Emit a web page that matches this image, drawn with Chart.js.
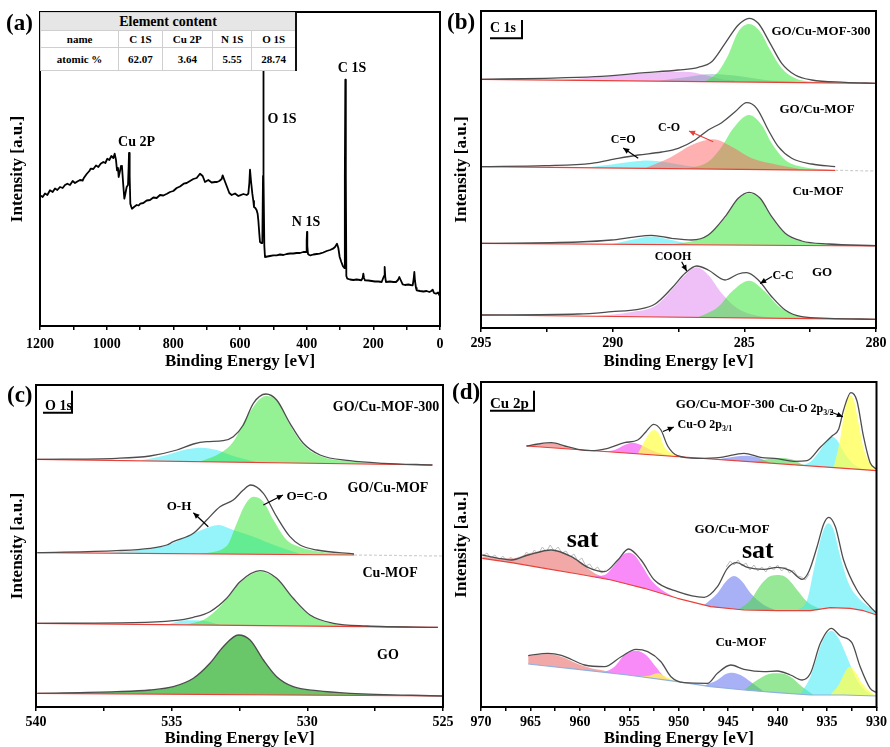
<!DOCTYPE html>
<html>
<head>
<meta charset="utf-8">
<script src="https://cdn.jsdelivr.net/npm/chart.js@4.4.1/dist/chart.umd.min.js"></script>
<style>
  body { margin: 0; width: 890px; height: 747px; position: relative; overflow: hidden; background: #fff;
         font-family: 'Liberation Serif', 'Times New Roman', serif; }
  canvas { position: absolute; }
  .tag { position: absolute; font: bold 23px/23px 'Liberation Serif', serif; color: #000; }
  #elTable { position: absolute; left: 40px; top: 12px; width: 257px; height: 58px; border-collapse: collapse;
             background: #fff; z-index: 5; border-top: 1px solid #777; border-right: 2px solid #111; border-bottom: 1px solid #aaa; }
  #elTable td { border: 1px solid #cfcfcf; text-align: center; font: bold 11px 'Liberation Serif', serif; padding: 0; }
  #elTable tr.head td { background: #e6e6e6; font-size: 14px; height: 17px; }
  #elTable tr.r1 td { height: 16px; }
  #elTable tr.r2 td { height: 22px; }
</style>
</head>
<body>
<canvas id="pa" width="455" height="373" style="left:0;top:0"></canvas>
<canvas id="pb" width="445" height="373" style="left:445px;top:0"></canvas>
<canvas id="pc" width="460" height="374" style="left:0;top:373px"></canvas>
<canvas id="pd" width="445" height="374" style="left:445px;top:373px"></canvas>
<table id="elTable"></table>
<div class="tag" style="left:6px;top:11px">(a)</div>
<div class="tag" style="left:447px;top:10px">(b)</div>
<div class="tag" style="left:7px;top:383px">(c)</div>
<div class="tag" style="left:452px;top:380px">(d)</div>
<script>
// ---------- survey spectrum (binding energy eV, intensity) ----------
const surveyTickLabels = [1200, 1000, 800, 600, 400, 200, 0];
const elementNames = ['C 1S', 'Cu 2P', 'N 1S', 'O 1S'];
const atomicPercent = ['62.07', '3.64', '5.55', '28.74'];
const survey = [
  [1200,130.7],[1192,129],[1185,132.5],[1178,131],[1170,135.7],[1162,134],[1155,137.5],[1148,136],[1140,139],
  [1132,138],[1125,141],[1118,142.3],[1110,141],[1102,145],[1095,143],[1088,144.5],[1080,146],[1072,145.5],
  [1068,148.3],[1060,152],[1052,155],[1048,157.3],[1040,157],[1032,160.5],[1025,159],[1018,162.3],[1010,164],
  [1004,163],[998,167.3],[992,166],[986,170],[980,168],[976,172.3],[972,166],[969,155.7],[966,158],[964,149],
  [960,155],[957,160],[954,159],[950,140],[947,127.3],[944,132],[940,139],[936,141],[934,160],[933,173],
  [931,150],[929,122.3],[926,119],[924,117.3],[918,119],[910,121],[904,120.5],[899,122.3],[890,123],[880,125.5],
  [870,126],[860,128.5],[850,128],[840,131],[830,130.5],[819,132.3],[810,134],[800,135],[790,138],[780,139.5],
  [769,142.3],[760,143],[750,145],[740,147],[730,148],[720,152.3],[712,150],[705,144],[695,146],[685,143.5],
  [675,144],[669,144],[662,145],[655,147],[652,150.7],[648,147],[640,140],[632,133],[625,131],[615,132.5],
  [605,130],[600,130.7],[590,132],[580,131],[575,132.3],[572,143],[570,156.3],[567,145],[563,132.3],[560,125],
  [558,119],[554,118],[550,115.7],[547,112],[545,105.7],[542,92],[540,84],[536,83],[533,83],[531,150],[530,290],
  [529,150],[527,80],[525,69],[518,69.5],[510,70],[500,70.7],[490,70.7],[480,71.5],[470,71],[460,72],[450,72.5],
  [440,72.5],[430,73],[420,73],[410,74],[402,74],[400,85],[399,94],[398,80],[396,72],[392,71],[389,70.7],
  [380,71.5],[370,72],[361,72.3],[350,73.5],[340,75],[330,76],[321,77.3],[315,79],[309,82.3],[305,78],[301,69],
  [296,64],[291,59.7],[287,58],[285.5,150],[284,246.3],[282.5,150],[281,50],[278,47.3],[270,46.5],[260,46],
  [250,46.5],[240,46],[236,45.7],[232,48],[230,52.3],[228,48],[225,45.7],[215,45.5],[205,45],[195,44.5],
  [185,44.5],[175,44],[168,50],[166,59],[164,48],[162,44],[150,44.5],[140,44],[132,44],[126,46],[122,49],
  [118,46],[112,41.7],[105,41],[95,41.5],[88,41],[82,40.7],[79,47],[77,54],[75,45],[72,38],[70,35.7],[60,35],
  [50,34.5],[40,35],[32,34],[26,35],[22,36.3],[18,33],[12,32.3],[6,33.5],[2,31],[0,35.7]
];

// ---------- C 1s ----------
const c1sTickLabels = [295, 290, 285, 280];
const c1sNames = ['GO/Cu-MOF-300', 'GO/Cu-MOF', 'Cu-MOF', 'GO'];
const c1s300Base = [[295,248.7],[280,244.7]];
const c1s300Env = [[295,248.7],[292.57,249.7],[290.67,251.3],[288.77,255.3],[287.51,258],[286.75,260.7],[286.24,266.3],
  [285.73,284.7],[285.23,303],[284.82,309.7],[284.47,304.7],[284.02,284.7],[283.58,264.7],[283.07,253],[282.44,248],
  [281.18,245.7],[280,244.7]];
const c1s300Pink = [[291.94,247.9],[290.04,252],[288.52,255.3],[287.25,256.3],[286.49,253],[285.86,248.7],[285.35,247.3]];
const c1s300Gray = [[288.27,246.9],[287.25,250.7],[286.24,254],[285.23,252],[284.21,248],[283.07,246.2]];
const c1s300Green = [[286.49,246.7],[285.99,256.3],[285.61,273],[285.23,296.3],[284.82,304],[284.40,296.3],[284.02,278],
  [283.58,259.7],[283.07,249.7],[282.19,246],[281.18,245.4]];

const c1sCompBase = [[295,161.3],[281.55,157.7]];
const c1sCompTail = [[281.55,157.7],[280,157]];
const c1sCompEnv = [[295,161.3],[292.57,162.3],[290.8,164.7],[289.79,169.7],[289.03,173],[288.14,176],[287.51,179.7],
  [286.87,188],[286.37,198],[285.86,205.3],[285.35,216.3],[284.91,225.3],[284.53,219.7],[284.09,198],[283.71,181.3],
  [283.2,169.7],[282.44,164],[281.55,161.3]];
const c1sCompCO2 = [[291.05,160.3],[290.04,163.5],[289.28,166.2],[288.65,167.5],[288.01,166],[287.25,162.5],[286.37,159]];
const c1sCompCO = [[288.77,159.7],[287.76,171.3],[287,183],[286.18,188.7],[285.48,181.3],[284.72,169.7],[283.71,163],[282.7,158]];
const c1sCompCC = [[287.25,159.3],[286.37,166.3],[285.86,181.3],[285.42,199.7],[284.82,213],[284.34,203],[283.96,184.7],
  [283.45,168],[282.82,161.3],[281.55,157.8]];

const c1sMofBase = [[295,84.7],[280,82]];
const c1sMofEnv = [[295,84.7],[291.3,86],[290.04,88],[289.28,90.7],[288.52,92.7],[287.76,89.7],[287,88],[286.37,93],
  [285.73,111.3],[285.23,129.7],[284.82,135.7],[284.4,129.7],[283.96,111.3],[283.45,94.7],[282.82,87],[281.81,84],[280,82.3]];
const c1sMofCC = [[287.76,83.5],[286.75,88.5],[286.24,96],[285.73,110],[285.23,128.7],[284.82,134.7],[284.4,128.7],
  [283.96,110.3],[283.45,94],[282.82,86.5],[281.81,83.8],[280,82.1]];
const c1sMofCO2 = [[290.04,83.8],[289.28,88.2],[288.52,91.5],[287.76,88],[287,83.4]];

const c1sGoBase = [[295,13],[280,8.7]];
const c1sGoEnv = [[295,13],[291.3,14],[290.04,16.3],[289.03,18.7],[288.39,24],[287.76,39.7],[287.25,54.7],[286.81,62],
  [286.37,58],[285.73,48],[285.23,54],[284.91,55.3],[284.47,48],[283.96,31.3],[283.45,18],[282.82,11.3],[281.81,9.7],[280,8.7]];
const c1sGoCOOH = [[290.67,11.8],[289.28,16],[288.39,22],[287.76,38],[287.25,53],[286.81,60.7],[286.37,53],[285.86,34.7],
  [285.35,21.3],[284.72,13.5],[283.71,9.8]];
const c1sGoCC = [[286.75,10.7],[285.99,21.3],[285.48,36.3],[284.82,47.3],[284.21,36.3],[283.71,22],[283.07,13],[282.19,9.4]];

// ---------- O 1s ----------
const o1sTickLabels = [540, 535, 530, 525];
const o1s300Base = [[539.95,247.7],[525.39,242]];
const o1s300Env = [[539.95,247.7],[537.03,248.7],[535.8,251],[534.81,257],[534.2,263],[533.71,265.3],[533.1,266.3],
  [532.73,270.3],[532.36,282],[531.99,303.7],[531.53,313],[531.13,307],[530.64,283.7],[530.15,263.7],[529.53,252],
  [528.43,246.3],[527.2,243.7],[525.39,242]];
const o1s300OCO = [[533.96,245.4],[533.22,253.7],[532.73,265.3],[532.23,290.3],[531.53,311],[531.07,305.3],[530.64,282],
  [530.15,262],[529.53,251],[528.43,245.7],[527.2,243]];
const o1s300OH = [[536.17,246.3],[535.18,252],[534.45,257.7],[533.89,259.3],[533.34,257],[532.73,251],[531.86,244.8]];

const o1sCompBase = [[539.95,154.3],[528.28,152]];
const o1sCompTail = [[528.28,152],[525,151]];
const o1sCompEnv = [[539.95,154.3],[537.03,156.3],[535.8,158.7],[535.18,162],[534.94,165.3],[534.2,173.7],[533.71,187],
  [533.22,200.3],[532.73,207],[532.36,217],[532.09,222],[531.62,213.7],[531.13,190.3],[530.64,170.3],[530.27,162],
  [529.65,157],[528.28,153]];
const o1sCompOCO = [[533.96,153.2],[532.97,161],[532.6,183.7],[532.3,202],[531.99,210.3],[531.62,205.3],[531.25,187],
  [530.76,167],[530.27,160],[529.65,155.7],[528.28,152.3]];
const o1sCompOH = [[537.5,153.8],[536.17,157],[535.18,161.5],[534.45,170.3],[533.83,177.7],[533.28,182],[532.73,177],
  [531.99,170.3],[531.13,161],[530.27,153.2]];

const o1sMofBase = [[539.95,83.7],[525.19,79.7]];
const o1sMofEnv = [[539.95,83.7],[536.41,84.3],[534.94,86.3],[534.2,89.7],[533.59,95.3],[532.97,108.7],[532.48,125.3],
  [531.74,136.3],[531.13,128.7],[530.52,108.7],[529.9,92],[529.04,83.7],[527.81,81],[525.19,79.7]];
const o1sMofOCO = [[534.45,82.3],[533.71,89],[532.97,107.7],[532.48,124.3],[531.74,135.3],[531.13,128],[530.52,108],
  [529.9,91.5],[529.04,83.3],[527.81,80.8],[525.19,79.7]];
const o1sMofOH = [[535.18,82.6],[534.45,86.8],[533.83,86.3],[533.22,82.2]];

const o1sGoBase = [[539.95,13.7],[525,11]];
const o1sGoEnv = [[539.95,13.7],[537.03,15.3],[535.8,17],[534.94,20.3],[534.2,28.7],[533.59,43.7],[533.1,60.3],
  [532.54,72],[532.11,67],[531.62,47],[531.13,30.3],[530.52,20.3],[529.65,16.3],[528.43,13.7],[525,11]];

// ---------- Cu 2p ----------
const cu2pTickLabels = [970, 965, 960, 955, 950, 945, 940, 935, 930];
const cu300Base = [[965.4,261],[929.97,236.3]];
const cu300Env = [[965.4,261],[964.22,263],[962.88,264.3],[961.53,261],[960.19,257.7],[958.85,256.3],[957.17,258.7],
  [955.49,264.3],[954.15,267],[953.31,275.3],[952.54,282.7],[951.8,277],[951.12,261],[950.12,251.3],[948.1,248.7],
  [945.75,249.7],[943.4,253.7],[941.72,249.7],[940.04,248.3],[938.36,245.7],[937.02,246.3],[935.68,259.7],[934.5,271],
  [933.83,277.7],[933.33,297],[932.59,314.3],[931.98,306.3],[931.31,270.3],[930.64,244.3],[929.97,237.7]];
const cu300Sat = [[965.4,261.5],[964.22,262.3],[962.88,264],[961.53,260.3],[960.19,257],[958.85,256.4],[958.2,256.1]];
const cu300Mag = [[957.84,255.7],[956.5,257],[955.49,262],[954.65,264.3],[953.81,262],[952.8,257],[951.46,252.7],[950.45,250.6]];
const cu300Y1 = [[954.15,253.2],[953.48,265.3],[952.97,273.7],[952.47,277],[951.97,273],[951.46,260.3],[950.45,253],[949.45,249.9]];
const cu300Blue = [[946.09,247.6],[944.74,249.7],[943.4,251.3],[942.06,249.7],[940.71,243.8]];
const cu300Green = [[942.39,245],[941.05,247.7],[939.7,249],[938.36,247],[937.35,242],[936.68,241.1]];
const cu300Cyan = [[938.03,241.1],[936.68,245.3],[935.68,257],[935.0,267],[934.5,270.3],[934.0,267],[933.33,255.3],
  [932.32,242.7],[931.31,237.4]];
const cu300Y2 = [[934.33,239.4],[933.66,268.7],[933.33,290.3],[933.0,305.3],[932.65,312],[932.25,305.3],[931.81,283.7],
  [931.31,258.7],[930.64,243.7],[929.97,237.4]];

const cuCompBase = [[969.87,148.7],[966.91,144.3],[963.55,138.7],[960.19,133],[956.83,127],[953.48,118.7],[950.12,108.7],
  [946.76,100.3],[943.4,97],[940.04,96.3],[936.68,96.3],[934.67,99.3],[932.65,98.7],[931.31,96.3],[929.97,92]];
const cuCompEnv = [[969.87,152],[968.25,148.7],[966.91,147],[965.23,152],[962.88,157],[960.86,150.3],[959.19,139.7],
  [957.51,135.3],[956.16,147],[955.09,158],[953.81,147],[952.47,127],[950.12,115.3],[947.43,109.7],[946.09,120.3],
  [945.08,138.7],[944.14,144.3],[943.06,139.7],[941.39,137.7],[940.04,139.7],[938.7,136.3],[937.52,127.7],[936.85,135.3],
  [936.01,160.3],[935.34,183],[934.84,189.7],[934.16,180.3],[933.33,147],[931.98,117],[930.64,100.3],[929.97,93.7]];
const cuCompRawSat1 = [[969.8,151],[969.4,154],[969.0,149],[968.6,152],[968.2,147],[967.8,151],[967.4,146],[967.0,150],
  [966.6,145],[966.2,150],[965.8,148],[965.4,155],[965.0,151],[964.6,157],[964.2,153],[963.8,160],[963.4,155],[963.0,162],
  [962.6,156],[962.2,160],[961.8,154],[961.4,156],[961.0,150],[960.6,153],[960.2,146],[959.8,149],[959.4,141],[959.0,143],
  [958.6,137],[958.2,140],[957.8,134],[957.4,137]];
const cuCompRawSat2 = [[945.2,140],[944.8,146],[944.4,142],[944.0,147],[943.6,141],[943.2,144],[942.8,137],[942.4,142],
  [942.0,136],[941.6,140],[941.2,135],[940.8,141],[940.4,137],[940.0,142],[939.6,136],[939.2,140],[938.8,134],[938.4,137],
  [938.0,131],[937.6,130],[937.2,127],[936.8,133]];
const cuCompSat = [[969.87,150.3],[966.91,148.7],[964.9,154.3],[962.88,156.3],[961.2,152],[959.86,143.7],[958.51,133.7],
  [957.51,129.7],[956.16,125.4]];
const cuCompMag = [[958.85,130.6],[957.51,132],[956.5,142],[955.66,152],[955.09,154.3],[954.48,152],[953.65,140.3],
  [952.8,127],[951.8,117.7],[950.45,109.7]];
const cuCompBlue = [[947.43,102],[946.09,113.7],[945.25,125.3],[944.41,131],[943.57,125.3],[942.73,113.7],[941.39,102],[940.04,96.3]];
const cuCompGreen = [[944.07,97.1],[942.73,107],[941.72,122],[940.71,131],[939.87,132],[939.03,128.7],[938.03,117],
  [937.02,105.3],[935.68,97.8]];
const cuCompCyan = [[938.03,96.3],[937.02,107],[936.35,137],[935.68,167],[935.17,181],[934.84,183.7],[934.33,177],
  [933.66,150.3],[932.82,123.7],[931.81,108.7],[930.81,100.3],[929.97,93]];

const cuMofBase = [[965.23,43],[960.19,37.7],[955.16,32],[950.12,25.3],[946.76,20.3],[943.4,17],[940.04,14.3],
  [936.68,12],[933.33,12],[929.97,11]];
const cuMofEnv = [[965.23,51.3],[963.22,53.7],[961.87,51.7],[959.52,42],[957.51,40.3],[955.83,50.3],[954.32,57.7],
  [953.14,55.3],[951.8,45.3],[950.79,30.3],[949.45,24.3],[947.09,23.7],[946.09,33.7],[944.74,42],[943.4,37.7],
  [941.39,35.3],[940.04,36],[938.7,32],[937.52,27],[936.68,33.7],[935.68,63.7],[934.57,78.7],[933.66,71],[932.49,64.3],
  [931.65,40.3],[930.64,18.7],[929.97,14.3]];
const cuMofSat = [[965.23,51],[963.22,53],[961.87,50.3],[960.19,43],[958.85,38.7],[957.51,36.3],[956.83,34]];
const cuMofMag = [[957.51,34.7],[956.5,40.3],[955.49,52],[954.32,56.3],[953.31,52],[952.47,42],[951.46,30.3],[950.45,25.7]];
const cuMofY1 = [[954.15,30.7],[952.97,31.3],[952.13,33.7],[951.29,30.3],[950.12,25.3]];
const cuMofBlue = [[947.43,21.3],[946.09,27],[945.25,33],[944.58,34.3],[943.74,32],[942.73,25.3],[941.39,15.4]];
const cuMofGreen = [[943.4,17],[942.06,27],[940.88,33],[939.87,33.7],[938.7,30.3],[937.52,20.3],[936.35,12]];
const cuMofCyan = [[937.69,12.7],[936.68,30.3],[936.01,50.3],[935.34,68.7],[934.57,76.3],[933.83,68.7],[932.99,50.3],
  [931.98,27],[930.98,15.3],[929.97,11.2]];
const cuMofY2 = [[934.67,12.3],[933.83,22],[933.16,35.3],[932.72,40.3],[932.15,35.3],[931.48,23.7],[930.64,15.3],[929.97,11.2]];

// ---------- fill colours ----------
const GREEN = 'rgba(60,230,60,0.55)', CYAN = 'rgba(60,235,245,0.55)', PINK = 'rgba(225,140,240,0.55)',
      SALMON = 'rgba(255,100,100,0.5)', GRAYBLUE = 'rgba(110,150,175,0.4)', DKGREEN = 'rgba(55,180,55,0.75)',
      SAT = 'rgba(235,110,110,0.6)', MAGENTA = 'rgba(245,90,245,0.7)', YELLOW = 'rgba(255,255,80,0.75)',
      BLUE = 'rgba(110,125,240,0.6)', LGREEN = 'rgba(80,215,80,0.6)';

const SERIF = "'Liberation Serif','Times New Roman',serif";
Chart.defaults.font.family = SERIF;
Chart.defaults.color = '#000';

// element-content table
(function () {
  const t = document.getElementById('elTable');
  t.innerHTML = '<tr class="head"><td colspan="5">Element content</td></tr>' +
    '<tr class="r1"><td>name</td>' + elementNames.map(n => '<td>' + n + '</td>').join('') + '</tr>' +
    '<tr class="r2"><td>atomic %</td>' + atomicPercent.map(n => '<td>' + n + '</td>').join('') + '</tr>';
})();

const xy = pts => pts.map(p => ({ x: p[0], y: p[1] }));

// one stacked spectrum: fitted components filled down to the background, then background, raw data and envelope
function addSpectrum(list, s) {
  const baseIndex = list.length + s.comps.length;
  s.comps.forEach(c => list.push({ data: xy(c[0]), backgroundColor: c[1], borderWidth: 0, borderColor: 'rgba(0,0,0,0)',
    fill: { target: baseIndex }, cubicInterpolationMode: 'monotone' }));
  list.push({ data: xy(s.base), borderColor: s.baseColor || '#e8413a', borderWidth: 1.2, fill: false });
  if (s.tail) list.push({ data: xy(s.tail), borderColor: '#d0d0d0', borderWidth: 1.2, borderDash: [3, 2], fill: false });
  (s.raw || []).forEach(r => list.push({ data: xy(r), borderColor: '#bdbdbd', borderWidth: 1, fill: false }));
  if (s.env) list.push({ data: xy(s.env), borderColor: '#4d4d4d', borderWidth: 1.3, fill: false, cubicInterpolationMode: 'monotone' });
}
function ordered(list) { list.forEach((d, i) => { d.order = list.length - i; }); return list; }

const notesPlugin = {
  id: 'notes',
  afterDatasetsDraw(chart, args, o) {
    const { ctx, chartArea: a } = chart;
    const X = chart.scales.x, Y = chart.scales.y;
    ctx.save();
    ctx.strokeStyle = '#000'; ctx.lineWidth = 2;
    ctx.strokeRect(a.left, a.top, a.right - a.left, a.bottom - a.top);
    (o.arrows || []).forEach(r => {
      const x1 = X.getPixelForValue(r[0]), y1 = Y.getPixelForValue(r[1]);
      const x2 = X.getPixelForValue(r[2]), y2 = Y.getPixelForValue(r[3]);
      const col = r[4] || '#000';
      ctx.strokeStyle = col; ctx.fillStyle = col; ctx.lineWidth = 1.2;
      ctx.beginPath(); ctx.moveTo(x1, y1); ctx.lineTo(x2, y2); ctx.stroke();
      const ang = Math.atan2(y2 - y1, x2 - x1), L = 6, w = 2.8;
      ctx.beginPath(); ctx.moveTo(x2, y2);
      ctx.lineTo(x2 - L * Math.cos(ang) + w * Math.sin(ang), y2 - L * Math.sin(ang) - w * Math.cos(ang));
      ctx.lineTo(x2 - L * Math.cos(ang) - w * Math.sin(ang), y2 - L * Math.sin(ang) + w * Math.cos(ang));
      ctx.closePath(); ctx.fill();
    });
    ctx.textBaseline = 'middle';
    (o.texts || []).forEach(t => {
      const px = X.getPixelForValue(t.x), py = Y.getPixelForValue(t.y);
      ctx.fillStyle = '#000';
      ctx.font = 'bold ' + t.size + 'px ' + SERIF;
      if (t.sub) {
        ctx.textAlign = 'left';
        ctx.fillText(t.text, px, py);
        const w = ctx.measureText(t.text).width;
        ctx.font = 'bold ' + Math.round(t.size * 0.7) + 'px ' + SERIF;
        ctx.fillText(t.sub, px + w, py + t.size * 0.3);
      } else {
        ctx.textAlign = t.align || 'center';
        ctx.fillText(t.text, px, py);
      }
    });
    if (o.bracket) {
      const b = o.bracket;
      ctx.fillStyle = '#000';
      ctx.font = 'bold ' + b.size + 'px ' + SERIF; ctx.textAlign = 'left'; ctx.textBaseline = 'alphabetic';
      ctx.fillText(b.text, a.left + b.tx, a.top + b.ty);
      ctx.lineWidth = 2; ctx.strokeStyle = '#000';
      ctx.beginPath();
      ctx.moveTo(a.left + b.u0, a.top + b.uy); ctx.lineTo(a.left + b.u1, a.top + b.uy); ctx.lineTo(a.left + b.u1, a.top + b.by);
      ctx.stroke();
    }
    ctx.restore();
  }
};

function makePanel(id, cfg) {
  const cv = document.getElementById(id);
  const W = cv.width, H = cv.height, A = cfg.area;
  const LH = 17;
  const titleBottom = Math.min(H, cfg.xTitleY + LH / 2);
  const padL = cfg.yTitleX - LH / 2;
  const titleFont = { family: SERIF, size: 17, weight: 'bold', lineHeight: 1 };
  new Chart(cv, {
    type: 'line',
    data: { datasets: cfg.datasets },
    options: {
      responsive: false, animation: false, events: [],
      layout: { padding: { left: padL, top: A.t, right: W - A.r, bottom: H - titleBottom } },
      elements: { point: { radius: 0 }, line: { tension: 0, borderJoinStyle: 'round' } },
      plugins: { legend: { display: false }, tooltip: { enabled: false }, filler: { propagate: false }, notes: cfg.notes },
      scales: {
        x: {
          type: 'linear', reverse: true, min: cfg.xMin, max: cfg.xMax,
          afterFit: s => { s.height = titleBottom - A.b; },
          border: { display: false },
          grid: { drawOnChartArea: false, drawTicks: true, tickLength: 4, color: '#000', lineWidth: 1.5 },
          ticks: { stepSize: cfg.step, autoSkip: false, maxRotation: 0, padding: cfg.tickPad || 3, color: '#000',
                   font: { family: SERIF, size: 14, weight: 'bold' },
                   callback: v => cfg.labels.includes(v) ? String(v) : '' },
          title: { display: true, text: 'Binding Energy [eV]', color: '#000', padding: 0, font: titleFont }
        },
        y: {
          min: 0, max: cfg.yMax,
          afterFit: s => { s.width = A.l - padL; },
          border: { display: false }, grid: { display: false }, ticks: { display: false },
          title: { display: true, text: 'Intensity [a.u.]', color: '#000', padding: 0, font: titleFont }
        }
      }
    },
    plugins: [notesPlugin]
  });
}

// (a) survey
makePanel('pa', {
  area: { l: 40, t: 12, r: 440, b: 326 }, xTitleY: 362, yTitleX: 18, tickPad: 6,
  xMin: 0, xMax: 1200, step: 100, labels: surveyTickLabels, yMax: 314,
  datasets: [{ data: xy(survey), borderColor: '#000', borderWidth: 1.8, fill: false }],
  notes: { texts: [
    { x: 910.5, y: 184, text: 'Cu 2P', size: 14 }, { x: 474, y: 207, text: 'O 1S', size: 14 },
    { x: 264, y: 258, text: 'C 1S', size: 14 }, { x: 402, y: 104, text: 'N 1S', size: 14 } ] }
});

// (b) C 1s
const dsB = [];
addSpectrum(dsB, { base: c1s300Base, env: c1s300Env, comps: [[c1s300Pink, PINK], [c1s300Gray, GRAYBLUE], [c1s300Green, GREEN]] });
addSpectrum(dsB, { base: c1sCompBase, tail: c1sCompTail, env: c1sCompEnv, comps: [[c1sCompCO2, CYAN], [c1sCompCC, GREEN], [c1sCompCO, SALMON]] });
addSpectrum(dsB, { base: c1sMofBase, env: c1sMofEnv, comps: [[c1sMofCO2, CYAN], [c1sMofCC, GREEN]] });
addSpectrum(dsB, { base: c1sGoBase, env: c1sGoEnv, comps: [[c1sGoCOOH, PINK], [c1sGoCC, GREEN]] });
makePanel('pb', {
  area: { l: 36, t: 11, r: 431, b: 328 }, xTitleY: 361.5, yTitleX: 17,
  xMin: 280, xMax: 295, step: 2.5, labels: c1sTickLabels, yMax: 317,
  datasets: ordered(dsB),
  notes: {
    texts: [
      { x: 282.09, y: 296, text: c1sNames[0], size: 13 }, { x: 282.24, y: 218, text: c1sNames[1], size: 13 },
      { x: 282.2, y: 136, text: c1sNames[2], size: 13 }, { x: 282.05, y: 55, text: c1sNames[3], size: 13 },
      { x: 287.71, y: 71, text: 'COOH', size: 12 }, { x: 283.53, y: 52, text: 'C-C', size: 12 },
      { x: 287.86, y: 200, text: 'C-O', size: 12 }, { x: 289.6, y: 188, text: 'C=O', size: 12 } ],
    arrows: [[286.18, 186.3, 287.1, 197, '#e8413a'], [289.03, 169.7, 289.6, 180], [287.38, 66.3, 287.19, 57],
             [283.95, 51.5, 284.4, 44.5]],
    bracket: { text: 'C 1s', size: 14, tx: 9, ty: 21, u0: 9, u1: 41, uy: 27.3, by: 9 }
  }
});

// (c) O 1s
const dsC = [];
addSpectrum(dsC, { base: o1s300Base, env: o1s300Env, comps: [[o1s300OH, CYAN], [o1s300OCO, GREEN]] });
addSpectrum(dsC, { base: o1sCompBase, tail: o1sCompTail, env: o1sCompEnv, comps: [[o1sCompOH, CYAN], [o1sCompOCO, GREEN]] });
addSpectrum(dsC, { base: o1sMofBase, env: o1sMofEnv, comps: [[o1sMofOH, CYAN], [o1sMofOCO, GREEN]] });
addSpectrum(dsC, { base: o1sGoBase, env: o1sGoEnv, comps: [[o1sGoEnv, DKGREEN]] });
makePanel('pc', {
  area: { l: 36, t: 12, r: 443, b: 334 }, xTitleY: 366, yTitleX: 18,
  xMin: 525, xMax: 540, step: 2.5, labels: o1sTickLabels, yMax: 322,
  datasets: ordered(dsC),
  notes: {
    texts: [
      { x: 527.1, y: 300, text: c1sNames[0], size: 14 }, { x: 527.03, y: 219, text: c1sNames[1], size: 14 },
      { x: 526.95, y: 134, text: c1sNames[2], size: 14 }, { x: 527.03, y: 52, text: c1sNames[3], size: 14 },
      { x: 534.73, y: 200, text: 'O-H', size: 13 }, { x: 530.01, y: 210, text: 'O=C-O', size: 13 } ],
    arrows: [[533.65, 180.3, 534.2, 194.3], [531.62, 202, 530.9, 212]],
    bracket: { text: 'O 1s', size: 14, tx: 9, ty: 25, u0: 7, u1: 36, uy: 27.7, by: 5.7 }
  }
});

// (d) Cu 2p
const dsD = [];
addSpectrum(dsD, { base: cu300Base, env: cu300Env, comps: [[cu300Sat, SAT], [cu300Mag, MAGENTA], [cu300Y1, YELLOW],
  [cu300Blue, BLUE], [cu300Green, LGREEN], [cu300Cyan, CYAN], [cu300Y2, YELLOW]] });
addSpectrum(dsD, { base: cuCompBase, env: cuCompEnv, raw: [cuCompRawSat1, cuCompRawSat2], comps: [[cuCompSat, SAT],
  [cuCompMag, MAGENTA], [cuCompBlue, BLUE], [cuCompGreen, LGREEN], [cuCompCyan, CYAN]] });
addSpectrum(dsD, { base: cuMofBase, baseColor: '#8fb0e0', env: cuMofEnv, comps: [[cuMofSat, SAT], [cuMofMag, MAGENTA],
  [cuMofY1, YELLOW], [cuMofBlue, BLUE], [cuMofGreen, LGREEN], [cuMofCyan, CYAN], [cuMofY2, YELLOW]] });
makePanel('pd', {
  area: { l: 36, t: 9, r: 433, b: 334 }, xTitleY: 366, yTitleX: 17,
  xMin: 930, xMax: 970, step: 2.5, labels: cu2pTickLabels, yMax: 325,
  datasets: ordered(dsD),
  notes: {
    texts: [
      { x: 945.31, y: 302, text: c1sNames[0], size: 13 },
      { x: 939.87, y: 298, text: 'Cu-O 2p', sub: '3/2', size: 12 },
      { x: 950.12, y: 282, text: 'Cu-O 2p', sub: '3/1', size: 12 },
      { x: 944.61, y: 177, text: c1sNames[1], size: 13 },
      { x: 959.72, y: 167, text: 'sat', size: 26 }, { x: 942.0, y: 156, text: 'sat', size: 26 },
      { x: 943.7, y: 64, text: c1sNames[2], size: 13 } ],
    arrows: [[934.67, 295.3, 933.4, 290.3], [951.6, 275.5, 950.5, 280]],
    bracket: { text: 'Cu 2p', size: 15, tx: 9, ty: 26.3, u0: 9, u1: 53, uy: 28.7, by: 8.7 }
  }
});
</script>
</body>
</html>
